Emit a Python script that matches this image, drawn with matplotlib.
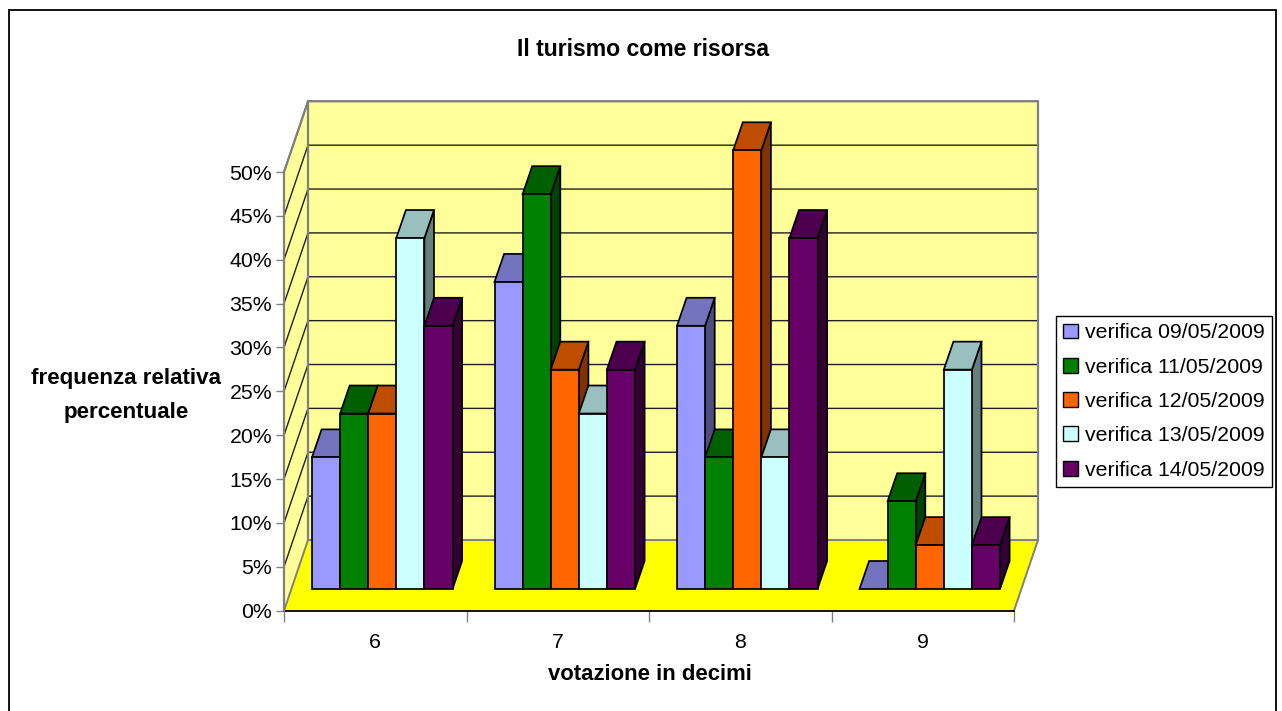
import matplotlib
matplotlib.use("Agg")
import matplotlib.pyplot as plt
from matplotlib.patches import Rectangle, Patch

plt.rcParams['font.family'] = ['Liberation Sans', 'DejaVu Sans']

categories = ['6', '7', '8', '9']
series_names = ['verifica 09/05/2009', 'verifica 11/05/2009', 'verifica 12/05/2009',
                'verifica 13/05/2009', 'verifica 14/05/2009']
v_0905 = [15, 35, 30, 0]
v_1105 = [20, 45, 15, 10]
v_1205 = [20, 25, 50, 5]
v_1305 = [40, 20, 15, 25]
v_1405 = [30, 25, 40, 5]
series = [v_0905, v_1105, v_1205, v_1305, v_1405]
front_col = ['#9999FF', '#008000', '#FF6600', '#CCFFFF', '#660066']
top_col = ['#7373BF', '#006000', '#BF4D00', '#99BFBF', '#4D004D']
side_col = ['#4D4D80', '#004000', '#803300', '#668080', '#330033']
y_ticks = list(range(0, 55, 5))

W, H = 1282, 711
fig = plt.figure(figsize=(W / 100, H / 100), dpi=100, facecolor='white')
L, R, T, B = 284, 1014, 172, 610.7
ax = fig.add_axes([L / W, 1 - B / H, (R - L) / W, (B - T) / H])
ax.set_xlim(0, len(categories))
ax.set_ylim(0, 50)
ax.patch.set_visible(False)
for s in ax.spines.values():
    s.set_visible(False)

px_x = (R - L) / len(categories)   # pixels per category
px_y = (B - T) / 50                # pixels per percent
WALL_DX, WALL_DY = 24 / px_x, 70.7 / px_y
BAR_DX, BAR_DY = 9.6 / px_x, 28 / px_y
BASE = 21.7 / px_y
BAR_W = 28.1 / px_x
BAR_START = 28 / px_x
NC = len(categories)

# walls and floor
WALL = '#FFFF99'
GRAY = '#808080'
ax.fill([WALL_DX, NC + WALL_DX, NC + WALL_DX, WALL_DX],
        [WALL_DY, WALL_DY, 50 + WALL_DY, 50 + WALL_DY],
        fc=WALL, ec='none', clip_on=False, zorder=1)
ax.fill([0, WALL_DX, WALL_DX, 0], [0, WALL_DY, 50 + WALL_DY, 50],
        fc=WALL, ec='none', clip_on=False, zorder=1)
for t in y_ticks[1:]:
    ax.plot([0, WALL_DX, NC + WALL_DX], [t, t + WALL_DY, t + WALL_DY],
            color='#202020', lw=1.0, clip_on=False, zorder=2, solid_joinstyle='miter')
ax.plot([0, 0, WALL_DX, NC + WALL_DX, NC + WALL_DX],
        [0, 50, 50 + WALL_DY, 50 + WALL_DY, WALL_DY],
        color=GRAY, lw=1.6, clip_on=False, zorder=3, solid_joinstyle='miter')
ax.plot([WALL_DX, WALL_DX], [WALL_DY, 50 + WALL_DY], color=GRAY, lw=1.6,
        clip_on=False, zorder=3)
ax.fill([0, NC, NC + WALL_DX, WALL_DX], [0, 0, WALL_DY, WALL_DY],
        fc='#FFFF00', ec='none', clip_on=False, zorder=3)
ax.plot([0, WALL_DX, NC + WALL_DX, NC], [0, WALL_DY, WALL_DY, 0],
        color=GRAY, lw=1.4, clip_on=False, zorder=3.1)
ax.plot([0, NC], [0, 0], color='black', lw=1.3, clip_on=False, zorder=3.2)

# bars, painted left to right
z = 4.0
for c in range(NC):
    for k, vals in enumerate(series):
        v = vals[c]
        x0 = c + BAR_START + k * BAR_W
        x1 = x0 + BAR_W
        base, top = BASE, BASE + v
        ekw = dict(ec='black', lw=1.25, clip_on=False, joinstyle='miter')
        ax.fill([x1, x1 + BAR_DX, x1 + BAR_DX, x1],
                [base, base + BAR_DY, top + BAR_DY, top],
                fc=side_col[k], zorder=z, **ekw)
        ax.fill([x0, x1, x1 + BAR_DX, x0 + BAR_DX],
                [top, top, top + BAR_DY, top + BAR_DY],
                fc=top_col[k], zorder=z + 0.01, **ekw)
        if v > 0:
            ax.bar(x0, v, bottom=base, width=BAR_W, align='edge', color=front_col[k],
                   edgecolor='black', linewidth=1.25, clip_on=False, zorder=z + 0.02)
        z += 0.1

# axes
ax.set_yticks(y_ticks)
ax.set_yticklabels([f'{t}%' for t in y_ticks], fontsize=15.3)
ax.set_xticks(range(NC + 1))
ax.set_xticklabels([])
ax.set_xticks([c + 0.5 for c in range(NC)], minor=True)
ax.set_xticklabels(categories, minor=True, fontsize=15.3)
ax.tick_params(axis='x', which='minor', length=0, pad=16)
ax.tick_params(axis='x', which='major', length=8, width=1, color=GRAY)
ax.tick_params(axis='y', length=6, width=1, color=GRAY, pad=2.5)
ax.plot([0, 0], [0, 50], color=GRAY, lw=1.4, clip_on=False, zorder=3.5)

# titles
def ptext(x, y, s, **kw):
    fig.text(x / W, 1 - y / H, s, ha='center', va='center', **kw)

ptext(643, 49.5, 'Il turismo come risorsa', fontsize=16.6, fontweight='bold')
ptext(650, 675, 'votazione in decimi', fontsize=15.9, fontweight='bold')
ptext(126, 395.5, 'frequenza relativa\npercentuale', fontsize=16.1, fontweight='bold', linespacing=1.85)

# chart frame: its bottom edge lies below the picture
fig.add_artist(Rectangle((9 / W, 1 - 725 / H), (1276 - 9) / W, (725 - 10.5) / H,
                         transform=fig.transFigure, fc='none', ec='black', lw=1.3))

# legend
handles = [Patch(fc=c, ec='black', lw=1.0) for c in front_col]
leg = fig.legend(handles, series_names, loc='upper left',
                 bbox_to_anchor=(1056 / W, 1 - 316 / H), bbox_transform=fig.transFigure,
                 fontsize=15.3, frameon=True, fancybox=False, edgecolor='black',
                 framealpha=1, handlelength=0.67, handleheight=0.7, handletextpad=0.33,
                 labelspacing=0.72, borderpad=0.35, borderaxespad=0)
leg.get_frame().set_linewidth(1.0)

fig.savefig('out.png', dpi=100)
